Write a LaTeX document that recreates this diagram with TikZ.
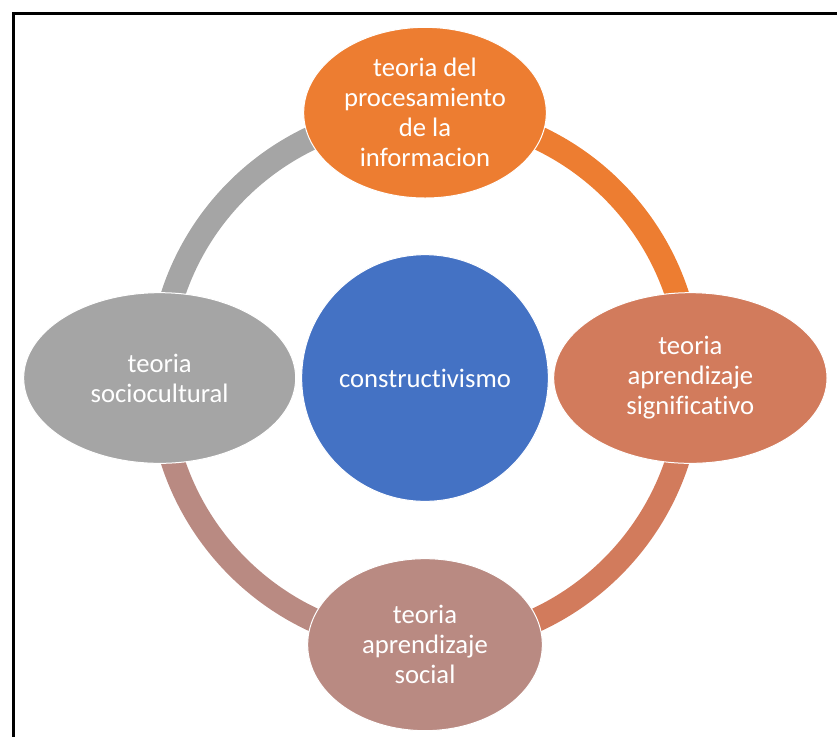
\documentclass[tikz,border=0pt]{standalone}
\usepackage{fontspec}
\setmainfont[Ligatures=NoCommon]{Carlito}
\usetikzlibrary{positioning,backgrounds,shapes.geometric}
\definecolor{accblue}{HTML}{4472C4}
\definecolor{accorange}{HTML}{ED7D31}
\definecolor{accsalmon}{HTML}{D27B5C}
\definecolor{accrose}{HTML}{B98A82}
\definecolor{accgray}{HTML}{A5A5A5}

\begin{document}
\begin{tikzpicture}[x=0.75pt, y=-0.75pt, node distance=199pt, on grid, font=\fontsize{20}{22.5}\selectfont, bubble/.style={ellipse, draw=white, line width=0.75pt, inner sep=0pt, align=center, text=white, minimum height=128pt}, ring/.style={line width=18pt}]
  \useasboundingbox (0,0) rectangle (837,736);
  % frame
  \draw[line width=2.25pt] (13.5,740) -- (13.5,13.5) -- (840,13.5);
  \node[circle, fill=accblue, draw=white, line width=0.75pt, text=white, minimum size=185pt, inner sep=0pt] (constr) at (425,378) {constructivismo};
  \node[bubble, fill=accorange, minimum width=182pt] (info) [above=of constr] {teoria del\\procesamiento\\de la\\informacion};
  \node[bubble, fill=accsalmon, minimum width=205pt] (signif) [right=of constr] {teoria\\aprendizaje\\significativo};
  \node[bubble, fill=accrose, minimum width=176pt, minimum height=129pt] (social) [below=200pt of constr] {teoria\\aprendizaje\\social};
  \node[bubble, fill=accgray, minimum width=204pt] (socio) [left=of constr] {teoria\\sociocultural};
  % ring
  \begin{scope}[on background layer]
    \draw[ring, accorange] (info.center) to[bend left=45] (signif.center);
    \draw[ring, accsalmon] (signif.center) to[bend left=45] (social.center);
    \draw[ring, accrose] (social.center) to[bend left=45] (socio.center);
    \draw[ring, accgray] (socio.center) to[bend left=45] (info.center);
  \end{scope}
\end{tikzpicture}
\end{document}
